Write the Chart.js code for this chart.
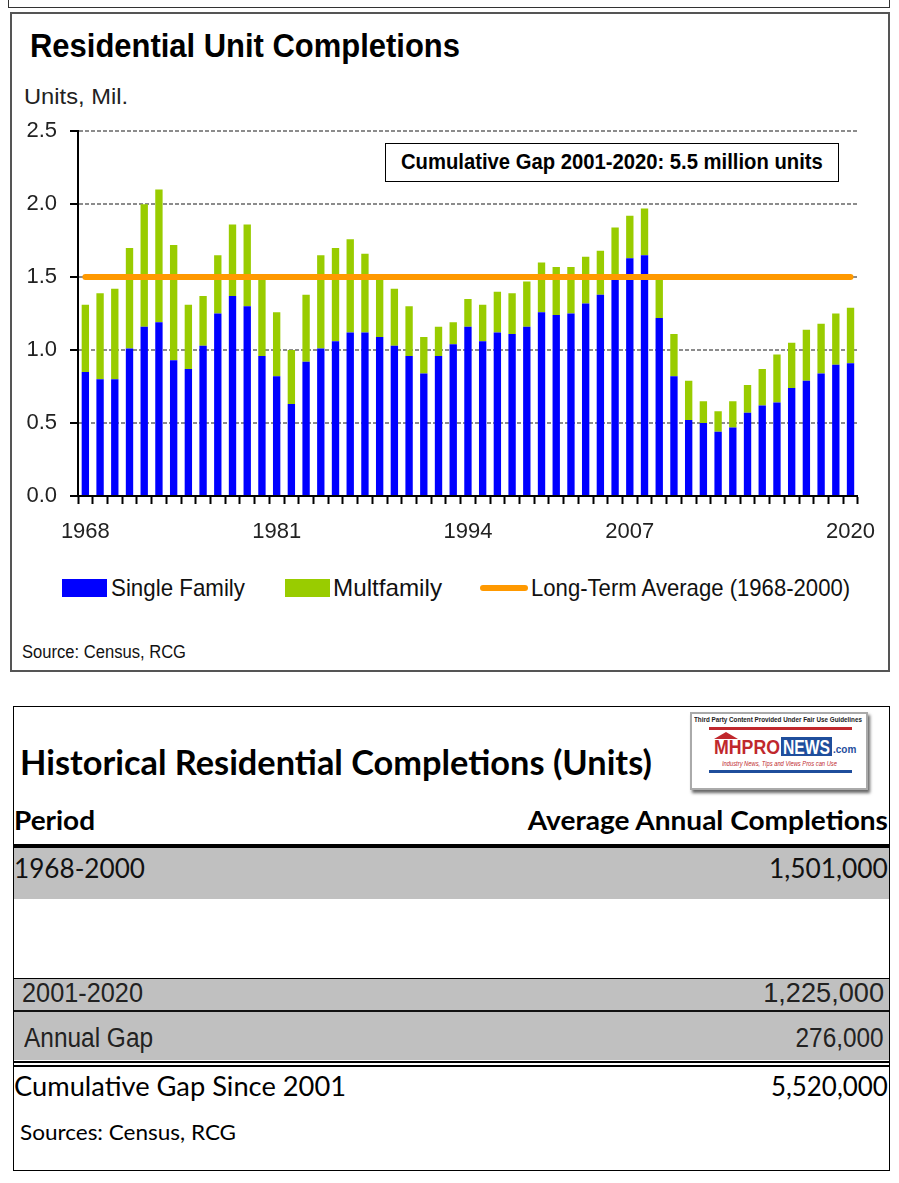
<!DOCTYPE html>
<html>
<head>
<meta charset="utf-8">
<script src="https://cdn.jsdelivr.net/npm/chart.js@4.4.0/dist/chart.umd.min.js"></script>
<style>
  body { margin: 0; background: #fff; width: 899px; height: 1183px; position: relative; overflow: hidden;
         font-family: 'Liberation Sans', Arial, sans-serif; color: #111; }
  .abs { position: absolute; white-space: nowrap; }
  .calibri { font-family: Lato, 'Open Sans', sans-serif; }
  .narrow { font-family: 'Liberation Sans', Arial, sans-serif; }
  .fit { transform-origin: left center; }
  .fitr { transform-origin: right center; }
</style>
</head>
<body>

<!-- bottom edge of the previous figure -->
<div class="abs" style="left:8px; top:-20px; width:880px; height:26px; border:1.5px solid #333;"></div>

<!-- chart card -->
<div class="abs" style="left:10px; top:12px; width:876px; height:656px; border:2px solid #555;"></div>
<div class="abs narrow fit" data-w="430" style="left:30px; top:27px; font-size:33px; font-weight:bold; color:#000;">Residential Unit Completions</div>
<div class="abs narrow fit" data-w="104" style="left:24px; top:84px; font-size:22px; color:#222;">Units, Mil.</div>

<canvas id="chart1" class="abs" style="left:10px; top:105px;"></canvas>

<div class="abs" style="left:385px; top:143px; width:452px; height:37px; border:1.5px solid #000; background:#fff;"></div>
<div class="abs narrow fit" data-w="422" style="left:401px; top:149px; font-size:22px; font-weight:bold; color:#000;">Cumulative Gap 2001-2020: 5.5 million units</div>

<!-- legend -->
<div class="abs" style="left:62px; top:579px; width:45px; height:18px; background:#0000ff;"></div>
<div class="abs narrow fit" data-w="134" style="left:111px; top:574px; font-size:24px; color:#111;">Single Family</div>
<div class="abs" style="left:285px; top:579px; width:45px; height:18px; background:#99cc00;"></div>
<div class="abs narrow fit" data-w="109" style="left:333px; top:574px; font-size:24px; color:#111;">Multfamily</div>
<div class="abs" style="left:480px; top:585px; width:48px; height:6px; border-radius:3px; background:#ff9900;"></div>
<div class="abs narrow fit" data-w="319" style="left:531px; top:574px; font-size:24px; color:#111;">Long-Term Average (1968-2000)</div>

<div class="abs narrow fit" data-w="164" style="left:22px; top:642px; font-size:18px; color:#111;">Source: Census, RCG</div>

<!-- table card -->
<div class="abs" style="left:13px; top:706px; width:875px; height:463px; border:1px solid #000;"></div>
<div class="abs calibri fit" data-w="632" style="left:20px; top:741px; font-size:34px; font-weight:bold; color:#000;">Historical Residential Completions (Units)</div>

<!-- logo -->
<div class="abs" style="left:690px; top:712px; width:174px; height:74px; background:#fff; border:2px solid #aaa;
     box-shadow: 2px 3px 3px #666;">
  <div class="abs fit" data-w="168" style="left:2px; top:1px; font-size:8px; font-weight:bold; color:#222;">Third Party Content Provided Under Fair Use Guidelines</div>
  <div class="abs" style="left:17px; top:13px; width:143px; height:3px; background:#c0282d;"></div>
  <div class="abs" style="left:22px; top:18px; width:0; height:0; border-left:12px solid transparent; border-right:12px solid transparent; border-bottom:7px solid #c0282d;"></div>
  <div class="abs fit" data-w="66" style="left:22px; top:21px; font-size:21px; font-weight:bold; color:#c0282d;">MHPRO</div>
  <div class="abs" style="left:89px; top:23px; width:51px; height:19px; background:#1f4e9c;"></div>
  <div class="abs fit" data-w="47" style="left:91px; top:21px; font-size:21px; font-weight:bold; color:#fff;">NEWS</div>
  <div class="abs" style="left:141px; top:30px; font-size:10px; font-weight:bold; color:#1f4e9c;">.com</div>
  <div class="abs fit" data-w="115" style="left:30px; top:46px; font-size:7px; font-style:italic; color:#c0282d;">Industry News, Tips and Views Pros can Use</div>
  <div class="abs" style="left:17px; top:56px; width:143px; height:3px; background:#1f4e9c;"></div>
</div>

<div class="abs calibri fit" data-w="81" style="left:14px; top:803px; font-size:27px; font-weight:bold; color:#000;">Period</div>
<div class="abs calibri fitr" data-w="360" style="right:11px; top:803px; font-size:27px; font-weight:bold; color:#000;">Average Annual Completions</div>
<div class="abs" style="left:14px; top:844px; width:875px; height:4px; background:#000;"></div>

<div class="abs" style="left:14px; top:848px; width:875px; height:51px; background:#c0c0c0;"></div>
<div class="abs calibri fit" data-w="131" style="left:14px; top:851px; font-size:27px; color:#111;">1968-2000</div>
<div class="abs calibri fitr" data-w="119" style="right:11px; top:851px; font-size:27px; color:#111;">1,501,000</div>

<div class="abs" style="left:14px; top:978px; width:875px; height:1px; background:#000;"></div>
<div class="abs" style="left:14px; top:979px; width:875px; height:32px; background:#c0c0c0;"></div>
<div class="abs narrow fit" data-w="121" style="left:22px; top:978px; font-size:27px; color:#222;">2001-2020</div>
<div class="abs narrow fitr" data-w="121" style="right:15px; top:978px; font-size:27px; color:#222;">1,225,000</div>
<div class="abs" style="left:14px; top:1010px; width:875px; height:2px; background:#111;"></div>
<div class="abs" style="left:14px; top:1012px; width:875px; height:48px; background:#c0c0c0;"></div>
<div class="abs narrow fit" data-w="129" style="left:24px; top:1023px; font-size:27px; color:#222;">Annual Gap</div>
<div class="abs narrow fitr" data-w="88" style="right:15px; top:1023px; font-size:27px; color:#222;">276,000</div>
<div class="abs" style="left:14px; top:1061px; width:875px; height:1.5px; background:#000;"></div>
<div class="abs" style="left:14px; top:1065px; width:875px; height:1.5px; background:#000;"></div>

<div class="abs calibri fit" data-w="332" style="left:14px; top:1069px; font-size:27px; color:#000;">Cumulative Gap Since 2001</div>
<div class="abs calibri fitr" data-w="117" style="right:11px; top:1069px; font-size:27px; color:#000;">5,520,000</div>
<div class="abs calibri fit" data-w="216" style="left:20px; top:1119px; font-size:21px; color:#000;">Sources: Census, RCG</div>

<script>
// completions by year, millions of units
const years = ['1968','1969','1970','1971','1972','1973','1974','1975','1976','1977','1978','1979','1980',
  '1981','1982','1983','1984','1985','1986','1987','1988','1989','1990','1991','1992','1993',
  '1994','1995','1996','1997','1998','1999','2000','2001','2002','2003','2004','2005','2006',
  '2007','2008','2009','2010','2011','2012','2013','2014','2015','2016','2017','2018','2019','2020'];

const singleFamily = [0.85,0.80,0.80,1.01,1.16,1.19,0.93,0.87,1.03,1.25,1.37,1.30,0.96,
  0.82,0.63,0.92,1.01,1.06,1.12,1.12,1.09,1.03,0.96,0.84,0.96,1.04,
  1.16,1.06,1.12,1.11,1.16,1.26,1.24,1.25,1.32,1.38,1.50,1.63,1.65,
  1.22,0.82,0.52,0.50,0.44,0.47,0.57,0.62,0.64,0.74,0.79,0.84,0.90,0.91];

const multiFamily = [0.46,0.59,0.62,0.69,0.84,0.91,0.79,0.44,0.34,0.40,0.49,0.56,0.54,
  0.44,0.37,0.46,0.64,0.64,0.64,0.54,0.43,0.39,0.34,0.25,0.20,0.15,
  0.19,0.25,0.28,0.28,0.31,0.34,0.33,0.32,0.32,0.30,0.34,0.29,0.32,
  0.28,0.29,0.27,0.15,0.14,0.18,0.19,0.25,0.33,0.31,0.35,0.34,0.35,0.38];

const longTermAvg = 1.501;   // 1968-2000 average
const avgSpan = ['1968', '2020'];

// x labels as printed on the original axis, and the bar slot each sits under
const xTickLabels = ['1968', '1981', '1994', '2007', '2020'];
const xTickSlots = [0, 13, 26, 37, 52];

const yTicks = [0, 0.5, 1.0, 1.5, 2.0, 2.5];

const NARROW = "'Liberation Sans', Arial, sans-serif";

// squeeze regular text into the narrow widths of the original
document.querySelectorAll('.fit, .fitr').forEach(el => {
    let w = el.getBoundingClientRect().width;
    let target = parseFloat(el.dataset.w);
    if (w > 0) el.style.transform = 'scaleX(' + (target / w).toFixed(3) + ')';
});

var ctx = document.getElementById('chart1');
ctx.width = 880;
ctx.height = 445;

var chart = new Chart(ctx, {
  type: 'bar',
  data: {
    labels: years,
    datasets: [
      {
        label: 'Long-Term Average (1968-2000)',
        type: 'line',
        data: avgSpan.map(y => ({ x: y, y: longTermAvg })),
        borderColor: '#ff9900',
        borderWidth: 6,
        borderCapStyle: 'round',
        pointRadius: 0,
        stack: 'avg',
        order: 0
      },
      {
        label: 'Single Family',
        data: singleFamily,
        backgroundColor: '#0000ff',
        stack: 'units',
        order: 1,
        categoryPercentage: 1.0,
        barPercentage: 0.5
      },
      {
        label: 'Multfamily',
        data: multiFamily,
        backgroundColor: '#99cc00',
        stack: 'units',
        order: 1,
        categoryPercentage: 1.0,
        barPercentage: 0.5
      }
    ]
  },
  options: {
    responsive: false,
    animation: false,
    layout: { padding: { top: 10, right: 0, left: 0, bottom: 0 } },
    plugins: {
      legend: { display: false },
      tooltip: { enabled: false },
      title: { display: false }
    },
    scales: {
      x: {
        stacked: true,
        afterFit: (s) => { s.height = 54; },
        grid: { display: true, drawOnChartArea: false, drawTicks: true, tickLength: 8, tickColor: '#000', tickWidth: 2 },
        border: { display: true, color: '#000', width: 2 },
        ticks: {
          autoSkip: false,
          maxRotation: 0,
          padding: 15,
          color: '#222',
          font: { family: NARROW, size: 22 },
          callback: function (val, idx) {
            let k = xTickSlots.indexOf(idx);
            return k >= 0 ? xTickLabels[k] : '';
          }
        }
      },
      y: {
        stacked: true,
        min: yTicks[0],
        max: yTicks[yTicks.length - 1],
        afterFit: (s) => { s.width = 68; },
        afterBuildTicks: (s) => { s.ticks = yTicks.map(v => ({ value: v })); },
        grid: {
          color: (c) => (c.tick && c.tick.value === 0) ? 'rgba(0,0,0,0)' : '#8c8c8c',
          lineWidth: 2,
          drawTicks: true,
          tickLength: 8,
          tickColor: '#000',
          tickWidth: 2,
          tickBorderDash: []
        },
        border: { display: true, color: '#000', width: 2, dash: [4, 2] },
        ticks: {
          padding: 13,
          color: '#222',
          font: { family: NARROW, size: 22 },
          callback: (v) => Number(v).toFixed(1)
        }
      }
    }
  }
});
</script>
</body>
</html>
